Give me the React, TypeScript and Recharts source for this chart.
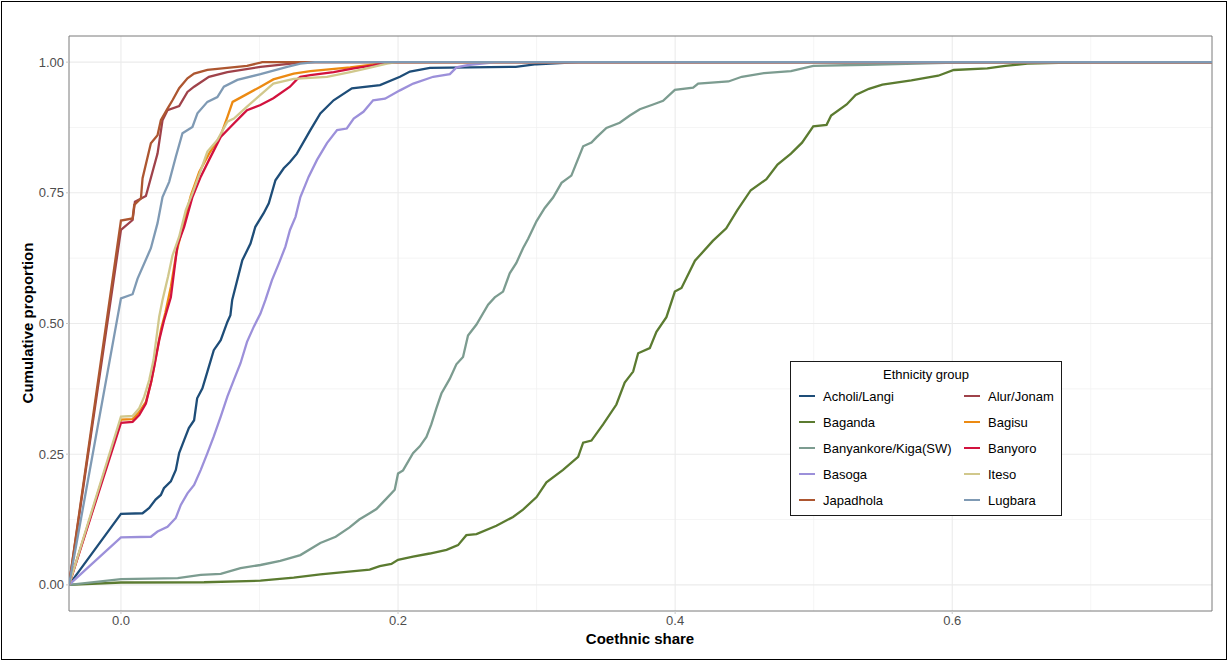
import React from "react";
import { LineChart, Line, XAxis, YAxis, CartesianGrid, ReferenceArea } from "recharts";

type Pt = [number, number];

// axis limits (ggplot-style 5% expansion around the data)
const X_MIN = -0.0375;
const X_MAX = 0.7875;
const Y_MIN = -0.05;
const Y_MAX = 1.05;

const xTicks = [0, 0.2, 0.4, 0.6];
const xMinor = [0.1, 0.3, 0.5, 0.7];
const yTicks = [0, 0.25, 0.5, 0.75, 1];
const yMinor = [0.125, 0.375, 0.625, 0.875];

const acholiLangi: Pt[] = [
  [0, 0.136], [0.0156, 0.137], [0.0204, 0.147], [0.025, 0.163], [0.0288, 0.172], [0.031, 0.185],
  [0.036, 0.198], [0.0396, 0.22], [0.042, 0.252], [0.0456, 0.277], [0.049, 0.3], [0.0528, 0.315],
  [0.055, 0.357], [0.0588, 0.376], [0.0624, 0.408], [0.067, 0.449], [0.072, 0.468], [0.0768, 0.503],
  [0.079, 0.516], [0.0803, 0.545], [0.0876, 0.621], [0.0935, 0.653], [0.097, 0.685], [0.103, 0.711],
  [0.1067, 0.73], [0.1115, 0.774], [0.1175, 0.797], [0.122, 0.809], [0.127, 0.825], [0.1367, 0.87],
  [0.1439, 0.902], [0.1535, 0.927], [0.1667, 0.95], [0.187, 0.956], [0.2014, 0.972], [0.2086, 0.982],
  [0.223, 0.989], [0.285, 0.991], [0.3, 0.996], [0.33, 1],
];
const alurJonam: Pt[] = [
  [0, 0.679], [0.0084, 0.698], [0.0101, 0.733], [0.018, 0.744], [0.0264, 0.825], [0.03, 0.889],
  [0.0336, 0.908], [0.042, 0.916], [0.048, 0.943], [0.0528, 0.953], [0.0635, 0.972], [0.0768, 0.981],
  [0.1007, 0.991], [0.1295, 0.999], [0.135, 1],
];
const baganda: Pt[] = [
  [0, 0.0045], [0.06, 0.005], [0.1007, 0.008], [0.1247, 0.014], [0.1439, 0.02], [0.1795, 0.029], [0.1868, 0.036],
  [0.1952, 0.04], [0.2, 0.048], [0.2108, 0.054], [0.2229, 0.06], [0.235, 0.067], [0.2433, 0.076],
  [0.2493, 0.095], [0.2566, 0.097], [0.271, 0.113], [0.283, 0.13], [0.2902, 0.144], [0.3, 0.168],
  [0.3071, 0.196], [0.3191, 0.22], [0.33, 0.245], [0.3336, 0.272], [0.3396, 0.276], [0.348, 0.307],
  [0.3576, 0.345], [0.3636, 0.387], [0.3697, 0.408], [0.3733, 0.443], [0.3817, 0.453], [0.3865, 0.484],
  [0.3937, 0.512], [0.3998, 0.561], [0.4046, 0.568], [0.4143, 0.62], [0.4272, 0.658], [0.4369, 0.682],
  [0.4449, 0.717], [0.4546, 0.755], [0.4659, 0.776], [0.4739, 0.804], [0.4836, 0.825], [0.4916, 0.846],
  [0.4997, 0.877], [0.5093, 0.88], [0.5126, 0.898], [0.5238, 0.919], [0.5303, 0.937], [0.5399, 0.949],
  [0.5496, 0.957], [0.5705, 0.965], [0.5899, 0.974], [0.6011, 0.985], [0.6253, 0.988], [0.6382, 0.993],
  [0.6543, 0.997], [0.6994, 1],
];
const bagisu: Pt[] = [
  [0, 0.316], [0.0084, 0.317], [0.013, 0.33], [0.018, 0.35], [0.022, 0.39], [0.0255, 0.44],
  [0.029, 0.49], [0.032, 0.52], [0.036, 0.57], [0.04, 0.635], [0.045, 0.69], [0.0505, 0.745],
  [0.0565, 0.79], [0.0636, 0.825], [0.072, 0.86], [0.0768, 0.895], [0.0806, 0.924], [0.0876, 0.934],
  [0.1007, 0.953], [0.11, 0.967], [0.1247, 0.978], [0.1367, 0.983], [0.1655, 0.99], [0.187, 0.997],
  [0.194, 1],
];
const banyankore: Pt[] = [
  [0, 0.011], [0.041, 0.013], [0.0576, 0.019], [0.072, 0.021], [0.0863, 0.032], [0.1007, 0.038],
  [0.115, 0.046], [0.1295, 0.057], [0.1439, 0.08], [0.155, 0.092], [0.165, 0.11], [0.172, 0.125],
  [0.1795, 0.137], [0.1844, 0.145], [0.1916, 0.165], [0.1976, 0.182], [0.2, 0.213], [0.2036, 0.219],
  [0.2108, 0.252], [0.2157, 0.265], [0.2205, 0.283], [0.224, 0.307], [0.2277, 0.338], [0.2313, 0.366],
  [0.2373, 0.394], [0.2421, 0.422], [0.2469, 0.436], [0.2505, 0.477], [0.2566, 0.498], [0.265, 0.536],
  [0.2698, 0.55], [0.2758, 0.561], [0.2806, 0.596], [0.2854, 0.616], [0.2902, 0.644], [0.2939, 0.662],
  [0.3, 0.696], [0.3059, 0.721], [0.3119, 0.741], [0.318, 0.769], [0.3251, 0.783], [0.3336, 0.839],
  [0.3396, 0.846], [0.3432, 0.856], [0.3504, 0.874], [0.36, 0.884], [0.3673, 0.898], [0.3745, 0.91],
  [0.3841, 0.919], [0.3913, 0.926], [0.3998, 0.947], [0.413, 0.951], [0.4166, 0.959], [0.4385, 0.963],
  [0.4481, 0.972], [0.4642, 0.979], [0.4836, 0.983], [0.4997, 0.993], [0.5383, 0.995], [0.6027, 0.999],
  [0.635, 1],
];
const banyoro: Pt[] = [
  [0, 0.31], [0.0084, 0.312], [0.0132, 0.325], [0.018, 0.347], [0.0216, 0.386], [0.024, 0.417],
  [0.0276, 0.468], [0.0312, 0.507], [0.036, 0.55], [0.0384, 0.6], [0.0408, 0.65], [0.0456, 0.685],
  [0.0516, 0.742], [0.0576, 0.781], [0.0636, 0.813], [0.072, 0.857], [0.079, 0.876], [0.0876, 0.899],
  [0.091, 0.908], [0.1007, 0.918], [0.11, 0.931], [0.122, 0.953], [0.127, 0.967], [0.1295, 0.972],
  [0.1367, 0.975], [0.1535, 0.981], [0.168, 0.988], [0.182, 0.994], [0.192, 1],
];
const basoga: Pt[] = [
  [0, 0.091], [0.0216, 0.092], [0.0264, 0.102], [0.0336, 0.111], [0.0396, 0.128], [0.0432, 0.153],
  [0.048, 0.175], [0.0528, 0.191], [0.0576, 0.22], [0.0624, 0.252], [0.067, 0.284], [0.072, 0.322],
  [0.0768, 0.36], [0.0815, 0.392], [0.0863, 0.424], [0.091, 0.465], [0.0959, 0.494], [0.1007, 0.519],
  [0.1043, 0.545], [0.109, 0.583], [0.114, 0.615], [0.1187, 0.647], [0.122, 0.679], [0.126, 0.704],
  [0.1295, 0.742], [0.1355, 0.781], [0.1415, 0.813], [0.1487, 0.845], [0.156, 0.87], [0.163, 0.873],
  [0.168, 0.892], [0.175, 0.905], [0.182, 0.927], [0.1906, 0.93], [0.2014, 0.946], [0.211, 0.959],
  [0.2254, 0.972], [0.2374, 0.977], [0.2422, 0.99], [0.2518, 0.995], [0.271, 1],
];
const iteso: Pt[] = [
  [0, 0.322], [0.0084, 0.323], [0.0132, 0.338], [0.0168, 0.36], [0.0204, 0.392], [0.0235, 0.43],
  [0.0276, 0.513], [0.03, 0.545], [0.034, 0.59], [0.0372, 0.63], [0.042, 0.666], [0.0468, 0.717],
  [0.0516, 0.749], [0.0576, 0.793], [0.0624, 0.829], [0.0696, 0.851], [0.0768, 0.886], [0.0815, 0.892],
  [0.091, 0.915], [0.11, 0.959], [0.1247, 0.968], [0.1487, 0.972], [0.1655, 0.981], [0.1775, 0.988],
  [0.192, 0.997], [0.199, 1],
];
const japadhola: Pt[] = [
  [0, 0.697], [0.0084, 0.701], [0.0096, 0.727], [0.0144, 0.739], [0.0156, 0.778], [0.0216, 0.845],
  [0.0264, 0.86], [0.0288, 0.889], [0.0336, 0.911], [0.0372, 0.927], [0.042, 0.95], [0.048, 0.969],
  [0.0528, 0.978], [0.0624, 0.985], [0.091, 0.993], [0.1007, 0.999], [0.102, 1],
];
const lugbara: Pt[] = [
  [0, 0.548], [0.0084, 0.556], [0.012, 0.586], [0.0216, 0.644], [0.0264, 0.692], [0.03, 0.742],
  [0.0348, 0.771], [0.0396, 0.819], [0.0444, 0.864], [0.0516, 0.876], [0.0552, 0.902], [0.0624, 0.924],
  [0.0696, 0.933], [0.0743, 0.953], [0.084, 0.966], [0.1007, 0.977], [0.12, 0.991], [0.1295, 0.997],
  [0.14, 1],
];

const groups = [
  { name: "Acholi/Langi", color: "#1E4D78", pts: acholiLangi },
  { name: "Alur/Jonam", color: "#9F424A", pts: alurJonam },
  { name: "Baganda", color: "#5B7B30", pts: baganda },
  { name: "Bagisu", color: "#EC8A12", pts: bagisu },
  { name: "Banyankore/Kiga(SW)", color: "#7C9C90", pts: banyankore },
  { name: "Banyoro", color: "#D2123E", pts: banyoro },
  { name: "Basoga", color: "#9C90DA", pts: basoga },
  { name: "Iteso", color: "#D1C88C", pts: iteso },
  { name: "Japadhola", color: "#AD5630", pts: japadhola },
  { name: "Lugbara", color: "#7F9AB4", pts: lugbara },
];

const FONT = '"Liberation Sans", Arial, Helvetica, sans-serif';

// ecdf padding: 0 at -Inf, 1 at +Inf
const toRows = (pts: Pt[]) =>
  [[X_MIN, 0] as Pt, ...pts, [X_MAX, 1] as Pt].map(([x, y]) => ({ x, y }));

const gridX = (vals: number[]) => (props: any) => {
  const s = props?.xAxis?.scale;
  if (typeof s === "function") return vals.map((v) => s(v));
  const o = props.offset;
  return vals.map((v) => o.left + ((v - X_MIN) / (X_MAX - X_MIN)) * o.width);
};
const gridY = (vals: number[]) => (props: any) => {
  const s = props?.yAxis?.scale;
  if (typeof s === "function") return vals.map((v) => s(v));
  const o = props.offset;
  return vals.map((v) => o.top + ((Y_MAX - v) / (Y_MAX - Y_MIN)) * o.height);
};

function LegendBox() {
  return (
    <div
      style={{
        position: "absolute",
        left: 790,
        top: 361,
        width: 270,
        height: 153,
        border: "1.3px solid #1a1a1a",
        background: "#fff",
        fontFamily: FONT,
        fontSize: 13,
        color: "#000",
      }}
    >
      <div style={{ position: "absolute", top: 5, width: "100%", textAlign: "center" }}>Ethnicity group</div>
      {groups.map((g, i) => {
        const col = i % 2;
        const row = Math.floor(i / 2);
        return (
          <div
            key={g.name}
            style={{
              position: "absolute",
              left: col === 0 ? 8 : 173,
              top: 26 + row * 26,
              height: 16,
              display: "flex",
              alignItems: "center",
              whiteSpace: "nowrap",
            }}
          >
            <span style={{ display: "inline-block", width: 16, height: 2.5, background: g.color, marginRight: 8 }} />
            {g.name}
          </div>
        );
      })}
    </div>
  );
}

export default function App() {
  const tick = { fontSize: 13, fill: "#4D4D4D", fontFamily: FONT };
  return (
    <div style={{ position: "absolute", left: 0, top: 0, width: 1229, height: 661, background: "#fff" }}>
      <div
        style={{
          position: "absolute",
          left: 1,
          top: 1,
          width: 1224,
          height: 657,
          border: "1.3px solid #000",
        }}
      />
      <div style={{ position: "absolute", left: 0, top: 0 }}>
        <LineChart width={1229} height={661} margin={{ top: 36, right: 17, bottom: 20, left: 1 }}>
          <CartesianGrid
            stroke="#F0F0F0"
            strokeWidth={0.7}
            verticalCoordinatesGenerator={gridX(xMinor)}
            horizontalCoordinatesGenerator={gridY(yMinor)}
          />
          <CartesianGrid
            stroke="#EBEBEB"
            strokeWidth={1.1}
            verticalCoordinatesGenerator={gridX(xTicks)}
            horizontalCoordinatesGenerator={gridY(yTicks)}
          />
          <XAxis
            type="number"
            dataKey="x"
            domain={[X_MIN, X_MAX]}
            allowDataOverflow
            ticks={xTicks}
            tickFormatter={(v: number) => v.toFixed(1)}
            tick={tick}
            axisLine={false}
            tickLine={{ stroke: "#C8C8C8" }}
            tickSize={3}
            tickMargin={1.5}
            height={30}
          />
          <YAxis
            type="number"
            domain={[Y_MIN, Y_MAX]}
            allowDataOverflow
            ticks={yTicks}
            tickFormatter={(v: number) => v.toFixed(2)}
            tick={tick}
            axisLine={false}
            tickLine={{ stroke: "#C8C8C8" }}
            tickSize={3}
            tickMargin={2}
            width={68}
          />
          {groups.map((g) => (
            <Line
              key={g.name}
              data={toRows(g.pts)}
              dataKey="y"
              name={g.name}
              type="linear"
              stroke={g.color}
              strokeWidth={2.3}
              dot={false}
              activeDot={false}
              isAnimationActive={false}
            />
          ))}
          <ReferenceArea
            x1={X_MIN}
            x2={X_MAX}
            y1={Y_MIN}
            y2={Y_MAX}
            fill="none"
            stroke="#7A7A7A"
            strokeWidth={1}
            ifOverflow="visible"
          />
        </LineChart>
      </div>
      <div
        style={{
          position: "absolute",
          left: 27,
          top: 323,
          transform: "translate(-50%, -50%) rotate(-90deg)",
          fontFamily: FONT,
          fontWeight: 700,
          fontSize: 15,
          whiteSpace: "nowrap",
        }}
      >
        Cumulative proportion
      </div>
      <div
        style={{
          position: "absolute",
          left: 640,
          top: 638,
          transform: "translate(-50%, -50%)",
          fontFamily: FONT,
          fontWeight: 700,
          fontSize: 15,
          whiteSpace: "nowrap",
        }}
      >
        Coethnic share
      </div>
      <LegendBox />
    </div>
  );
}
